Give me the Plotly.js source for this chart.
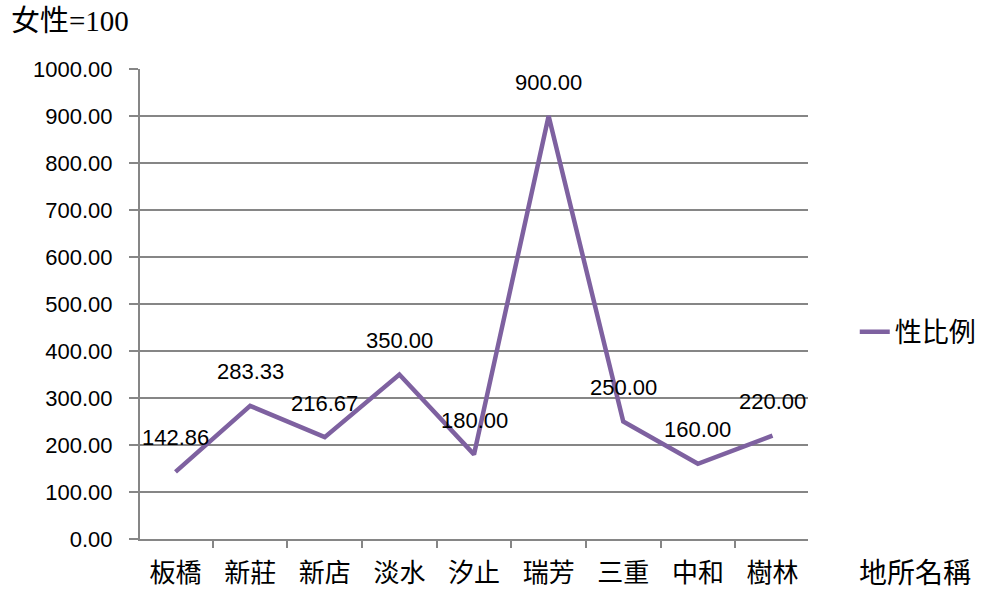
<!DOCTYPE html>
<html><head><meta charset="utf-8">
<script src="https://cdn.plot.ly/plotly-3.0.1.min.js"></script>
<style>body{margin:0;background:#fff}#c{width:1006px;height:590px}</style>
</head><body><div id="c"></div>
<script>
const categories = ['板橋','新莊','新店','淡水','汐止','瑞芳','三重','中和','樹林'];
const sexRatio = [142.86, 283.33, 216.67, 350.00, 180.00, 900.00, 250.00, 160.00, 220.00];
const seriesName = '性比例';
const yTitle = '女性=100';
const xTitle = '地所名稱';

const cjk = '"Noto Sans CJK TC", "Noto Sans CJK SC", sans-serif';
const num = '"Liberation Sans", Arial, sans-serif';

const trace = {
  x: categories, y: sexRatio, type: 'scatter', mode: 'lines', name: seriesName,
  line: {color: '#7E61A0', width: 4.5}, showlegend: true
};

const ann = categories.map((c, i) => ({
  x: c, y: sexRatio[i], xref: 'x', yref: 'y', text: sexRatio[i].toFixed(2),
  showarrow: false, yshift: 34, font: {family: num, size: 22, color: '#000'}
}));
ann.push({xref: 'paper', yref: 'paper', x: 1.074, y: -0.068, xanchor: 'left', yanchor: 'middle',
  text: xTitle, showarrow: false, font: {family: cjk, size: 28, color: '#000'}});
ann.push({xref: 'paper', yref: 'paper', x: -0.196, y: 1.102, xanchor: 'left', yanchor: 'middle',
  text: yTitle, showarrow: false, font: {family: '"Liberation Serif", ' + cjk, size: 29, color: '#000'}});

const layout = {
  width: 1006, height: 590,
  margin: {l: 140, r: 198, t: 69, b: 51},
  paper_bgcolor: '#fff', plot_bgcolor: '#fff',
  xaxis: {
    type: 'category', tickson: 'boundaries', ticks: 'outside', ticklen: 7, tickwidth: 2, tickcolor: '#868686',
    showline: true, linecolor: '#868686', linewidth: 2, showgrid: false, zeroline: false,
    tickfont: {family: cjk, size: 26, color: '#000'}, ticklabelstandoff: 10
  },
  yaxis: {
    range: [0, 1000], dtick: 100, tickformat: '.2f', ticks: 'outside', ticklen: 9, tickwidth: 2, tickcolor: '#868686',
    showline: true, linecolor: '#868686', linewidth: 2, gridcolor: '#868686', gridwidth: 2, zeroline: false,
    tickfont: {family: num, size: 22, color: '#000'}, ticklabelstandoff: 12
  },
  showlegend: true,
  legend: {x: 1.07, y: 0.44, xanchor: 'left', yanchor: 'middle', font: {family: cjk, size: 27, color: '#000'},
    bgcolor: 'rgba(0,0,0,0)', itemwidth: 30},
  annotations: ann
};
Plotly.newPlot('c', [trace], layout, {displayModeBar: false, staticPlot: true});
</script></body></html>
